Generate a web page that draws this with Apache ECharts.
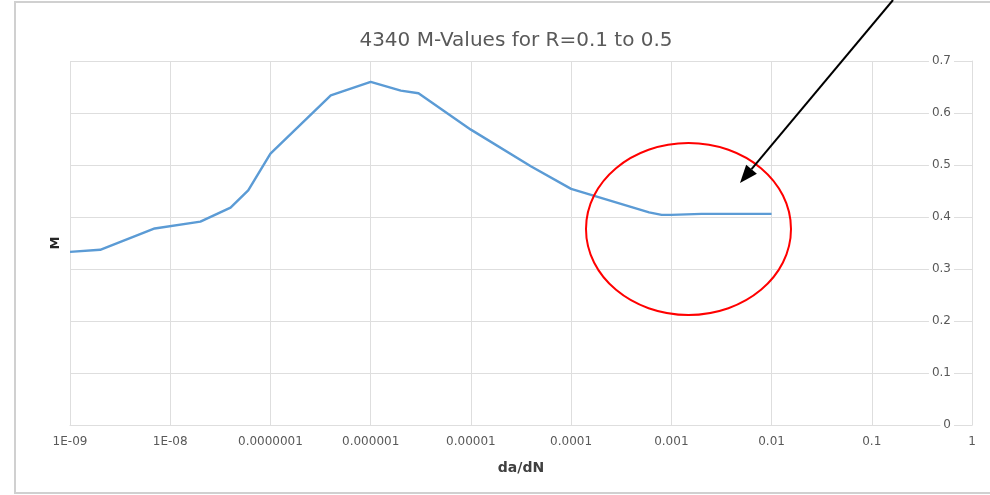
<!DOCTYPE html>
<html>
<head>
<meta charset="utf-8">
<script src="https://cdn.jsdelivr.net/npm/echarts@6/dist/echarts.min.js"></script>
<style>html,body{margin:0;padding:0;background:#fff;}#c{width:990px;height:495px;}</style>
</head>
<body>
<div id="c"></div>
<script>
// Data
var titleText = '4340 M-Values for R=0.1 to 0.5';
var xName = 'da/dN';
var yName = 'M';
var daDN = [1e-9, 2e-9, 7e-9, 2e-8, 4e-8, 6e-8, 1e-7, 4e-7, 1e-6, 2e-6, 3e-6, 1e-5, 4e-5, 1e-4, 6e-4, 8e-4, 1e-3, 2e-3, 1e-2];
var mValues = [0.333, 0.337, 0.378, 0.391, 0.418, 0.451, 0.522, 0.634, 0.660, 0.643, 0.638, 0.568, 0.497, 0.454, 0.409, 0.404, 0.404, 0.406, 0.406];
var xTickLabels = ['1E-09', '1E-08', '0.0000001', '0.000001', '0.00001', '0.0001', '0.001', '0.01', '0.1', '1'];
var yTickLabels = ['0', '0.1', '0.2', '0.3', '0.4', '0.5', '0.6', '0.7'];

var chart = echarts.init(document.getElementById('c'), null, {renderer: 'canvas'});
var FONT = 'DejaVu Sans';
var gridCol = '#dedede';
var txtCol = '#595959';

var lineData = daDN.map(function (x, i) { return [x, mValues[i]]; });

// arrow geometry (annotation)
var tip = [740, 183], start = [893, 0];
var dx = tip[0] - start[0], dy = tip[1] - start[1];
var L = Math.sqrt(dx * dx + dy * dy);
var ux = dx / L, uy = dy / L, nx = -uy, ny = ux;
var hl = 18, hw = 7;
var base = [tip[0] - hl * ux, tip[1] - hl * uy];

chart.setOption({
  animation: false,
  backgroundColor: '#ffffff',
  title: {
    text: titleText,
    left: 511,
    top: 26,
    textAlign: 'center',
    textStyle: {fontFamily: FONT, fontSize: 20, fontWeight: 'normal', color: txtCol}
  },
  grid: {left: 70, right: 18, top: 61, bottom: 70, containLabel: false},
  xAxis: {
    type: 'log',
    logBase: 10,
    min: 1e-9,
    max: 1,
    name: xName,
    nameLocation: 'middle',
    nameGap: 36,
    nameTextStyle: {fontFamily: FONT, fontSize: 14, fontWeight: 'bold', color: '#404040'},
    axisLine: {show: true, lineStyle: {color: gridCol, width: 1}},
    axisTick: {show: false},
    splitLine: {show: true, lineStyle: {color: gridCol, width: 1}},
    minorTick: {show: false},
    axisLabel: {
      margin: 11,
      fontFamily: FONT,
      fontSize: 12,
      color: txtCol,
      formatter: function (v) {
        var e = Math.round(Math.log10(v));
        return xTickLabels[e + 9];
      }
    }
  },
  yAxis: [{
    type: 'value',
    position: 'right',
    min: 0,
    max: 0.7,
    interval: 0.1,
    axisLine: {show: true, lineStyle: {color: gridCol, width: 1}},
    axisTick: {show: false},
    splitLine: {show: true, lineStyle: {color: gridCol, width: 1}},
    axisLabel: {
      inside: true,
      margin: 18,
      fontFamily: FONT,
      fontSize: 12,
      color: txtCol,
      backgroundColor: '#ffffff',
      padding: [0, 3, 0, 3],
      formatter: function (v) { return yTickLabels[Math.round(v * 10)]; }
    }
  }, {
    type: 'value',
    position: 'left',
    min: 0,
    max: 0.7,
    interval: 0.1,
    name: yName,
    nameLocation: 'middle',
    nameGap: 8,
    nameRotate: 90,
    nameTextStyle: {fontFamily: FONT, fontSize: 13, fontWeight: 'bold', color: '#262626'},
    axisLine: {show: false},
    axisTick: {show: false},
    axisLabel: {show: false},
    splitLine: {show: false}
  }],
  series: [{
    type: 'line',
    yAxisIndex: 0,
    data: lineData,
    showSymbol: false,
    symbol: 'none',
    smooth: false,
    lineStyle: {color: '#5B9BD5', width: 2.4},
    z: 3
  }],
  graphic: [
    {type: 'rect', shape: {x: 15, y: 2, width: 990, height: 491}, style: {fill: 'none', stroke: '#d0d0d0', lineWidth: 2}, z: 0, silent: true},
    {type: 'ellipse', shape: {cx: 688.5, cy: 229, rx: 102.5, ry: 86}, style: {fill: 'none', stroke: '#ff0000', lineWidth: 2}, z: 100, silent: true},
    {type: 'line', shape: {x1: start[0], y1: start[1], x2: base[0], y2: base[1]}, style: {stroke: '#000000', lineWidth: 2}, z: 100, silent: true},
    {type: 'polygon', shape: {points: [tip, [base[0] + hw * nx, base[1] + hw * ny], [base[0] - hw * nx, base[1] - hw * ny]]}, style: {fill: '#000000'}, z: 100, silent: true}
  ]
});
</script>
</body>
</html>
